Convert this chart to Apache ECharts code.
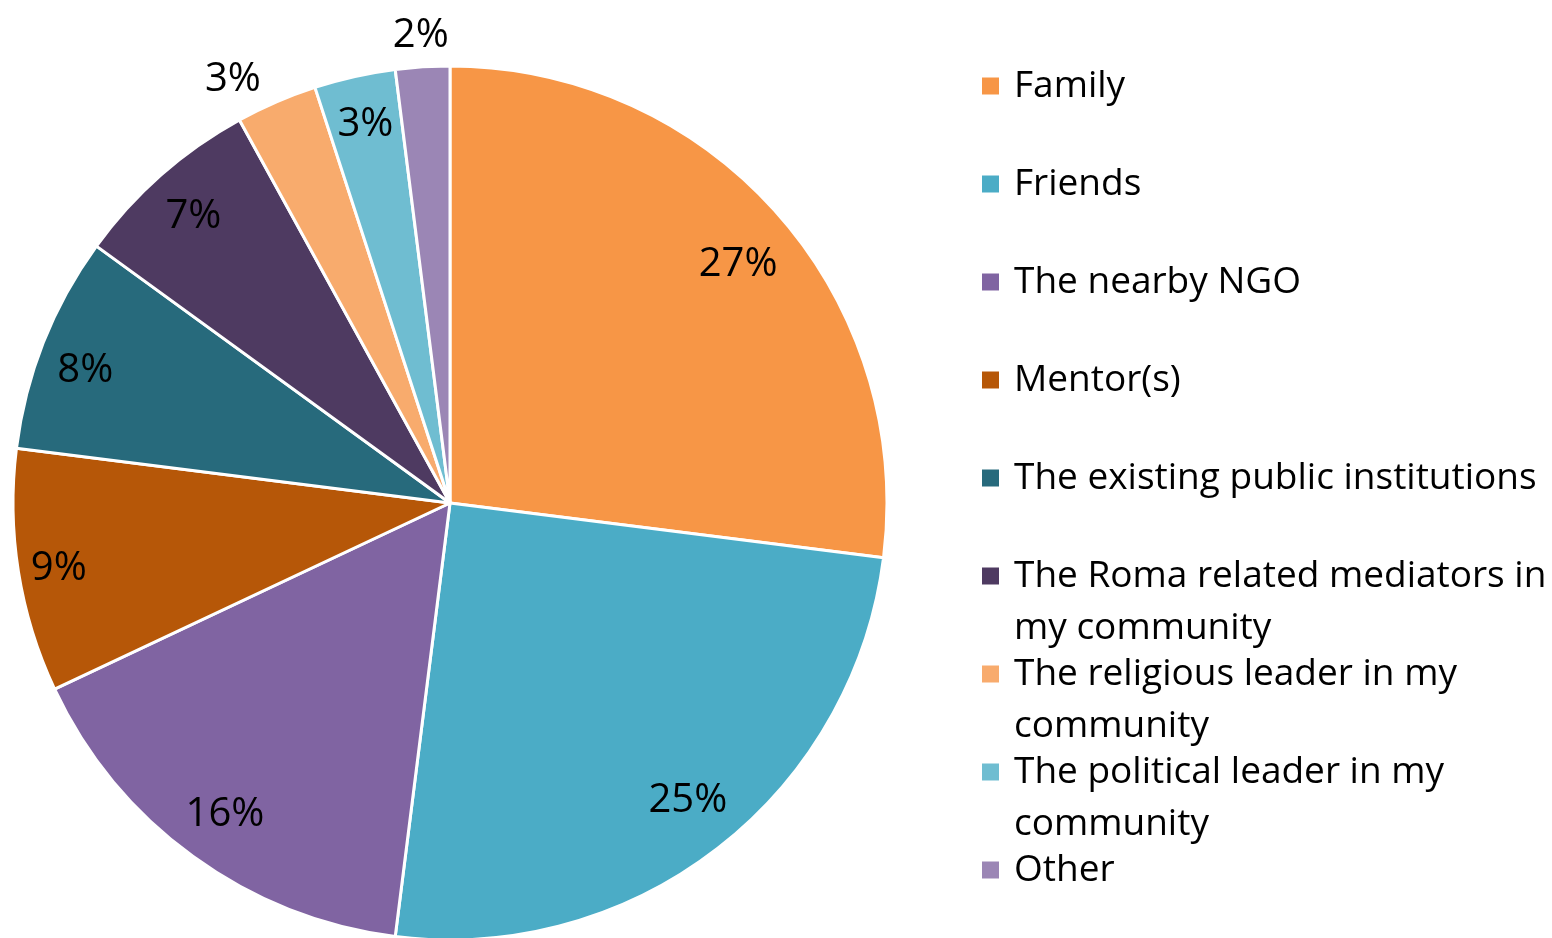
<!DOCTYPE html>
<html>
<head>
<meta charset="utf-8">
<script src="https://cdn.jsdelivr.net/npm/echarts@6/dist/echarts.min.js"></script>
<style>
html,body{margin:0;padding:0;background:#fff;}
#chart{width:1552px;height:938px;}
</style>
</head>
<body>
<div id="chart"></div>
<script>
// ---- data ----
const categories = [
  'Family',
  'Friends',
  'The nearby NGO',
  'Mentor(s)',
  'The existing public institutions',
  'The Roma related mediators in my community',
  'The religious leader in my community',
  'The political leader in my community',
  'Other'
];
const values = [27, 25, 16, 9, 8, 7, 3, 3, 2];
const legendLabels = [
  'Family',
  'Friends',
  'The nearby NGO',
  'Mentor(s)',
  'The existing public institutions',
  'The Roma related mediators in\nmy community',
  'The religious leader in my\ncommunity',
  'The political leader in my\ncommunity',
  'Other'
];
const colors = ['#F79646', '#4BACC6', '#8064A2', '#B65708', '#276A7C', '#4E3A61', '#F8AB6D', '#6FBDD1', '#9B86B5'];

// ---- layout / style ----
const FONT = '"Open Sans", "Liberation Sans", sans-serif';
const CENTER = [450, 503];
const R = 437;
// which labels sit outside the pie (style choice)
const outsideLabel = [false, false, false, false, false, false, true, false, true];
// small label nudges [dx, dy] in px (style only)
const nudge = [[-3, 18], [0, -9], [3, -2], [-8, 5], [-4, 10], [0, 5], [-32, 4], [0, 0], [0, -2]];

function nudgedLabel(i, show) {
  const dx = nudge[i][0], dy = nudge[i][1];
  const txt = '{t|' + values[i] + '%}';
  let fmt = txt;
  if (dy > 0) fmt = '{e| }\n' + txt;
  else if (dy < 0) fmt = txt + '\n{e| }';
  return {
    show: show,
    formatter: fmt,
    padding: [0, dx < 0 ? -2 * dx : 0, 0, dx > 0 ? 2 * dx : 0],
    rich: {
      t: {fontFamily: FONT, fontSize: 40, lineHeight: 48, color: '#000'},
      e: {fontSize: 1, lineHeight: Math.max(1, 2 * Math.abs(dy))}
    }
  };
}

const chart = echarts.init(document.getElementById('chart'), null, {renderer: 'canvas'});

const mainData = categories.map((name, i) => ({
  name, value: values[i], itemStyle: {color: colors[i]}
}));
const innerLabelData = categories.map((name, i) => ({
  name, value: values[i], label: nudgedLabel(i, !outsideLabel[i])
}));
const outerLabelData = categories.map((name, i) => ({
  name, value: values[i], label: nudgedLabel(i, outsideLabel[i])
}));

const legends = categories.map((name, i) => {
  const twoLine = legendLabels[i].indexOf('\n') >= 0;
  const cy = 86 + i * 98;
  return {
    data: [name],
    orient: 'vertical',
    left: 980,
    top: cy - (twoLine ? 78 : 26),
    padding: 0,
    itemWidth: 19,
    itemHeight: 19,
    icon: 'rect',
    selectedMode: false,
    formatter: () => twoLine ? '{e| }\n' + legendLabels[i] : legendLabels[i],
    textStyle: {
      fontFamily: FONT,
      fontSize: 37,
      lineHeight: 52,
      color: '#000',
      padding: [0, 0, 0, 9],
      rich: {e: {fontSize: 1, lineHeight: 52}}
    }
  };
});

const labelRing = {
  type: 'pie',
  center: CENTER,
  startAngle: 90,
  clockwise: true,
  silent: true,
  legendHoverLink: false,
  itemStyle: {color: 'rgba(0,0,0,0)', borderWidth: 0},
  label: {position: 'inside', color: '#000'},
  labelLine: {show: false},
  emphasis: {disabled: true}
};

chart.setOption({
  animation: false,
  backgroundColor: '#fff',
  legend: legends,
  series: [
    {
      type: 'pie',
      center: CENTER,
      radius: [0, R],
      startAngle: 90,
      clockwise: true,
      data: mainData,
      label: {show: false},
      labelLine: {show: false},
      itemStyle: {borderColor: '#fff', borderWidth: 3},
      emphasis: {disabled: true}
    },
    Object.assign({}, labelRing, {radius: [333, R], data: innerLabelData}),
    Object.assign({}, labelRing, {radius: [426, 500], data: outerLabelData})
  ]
});
</script>
</body>
</html>
